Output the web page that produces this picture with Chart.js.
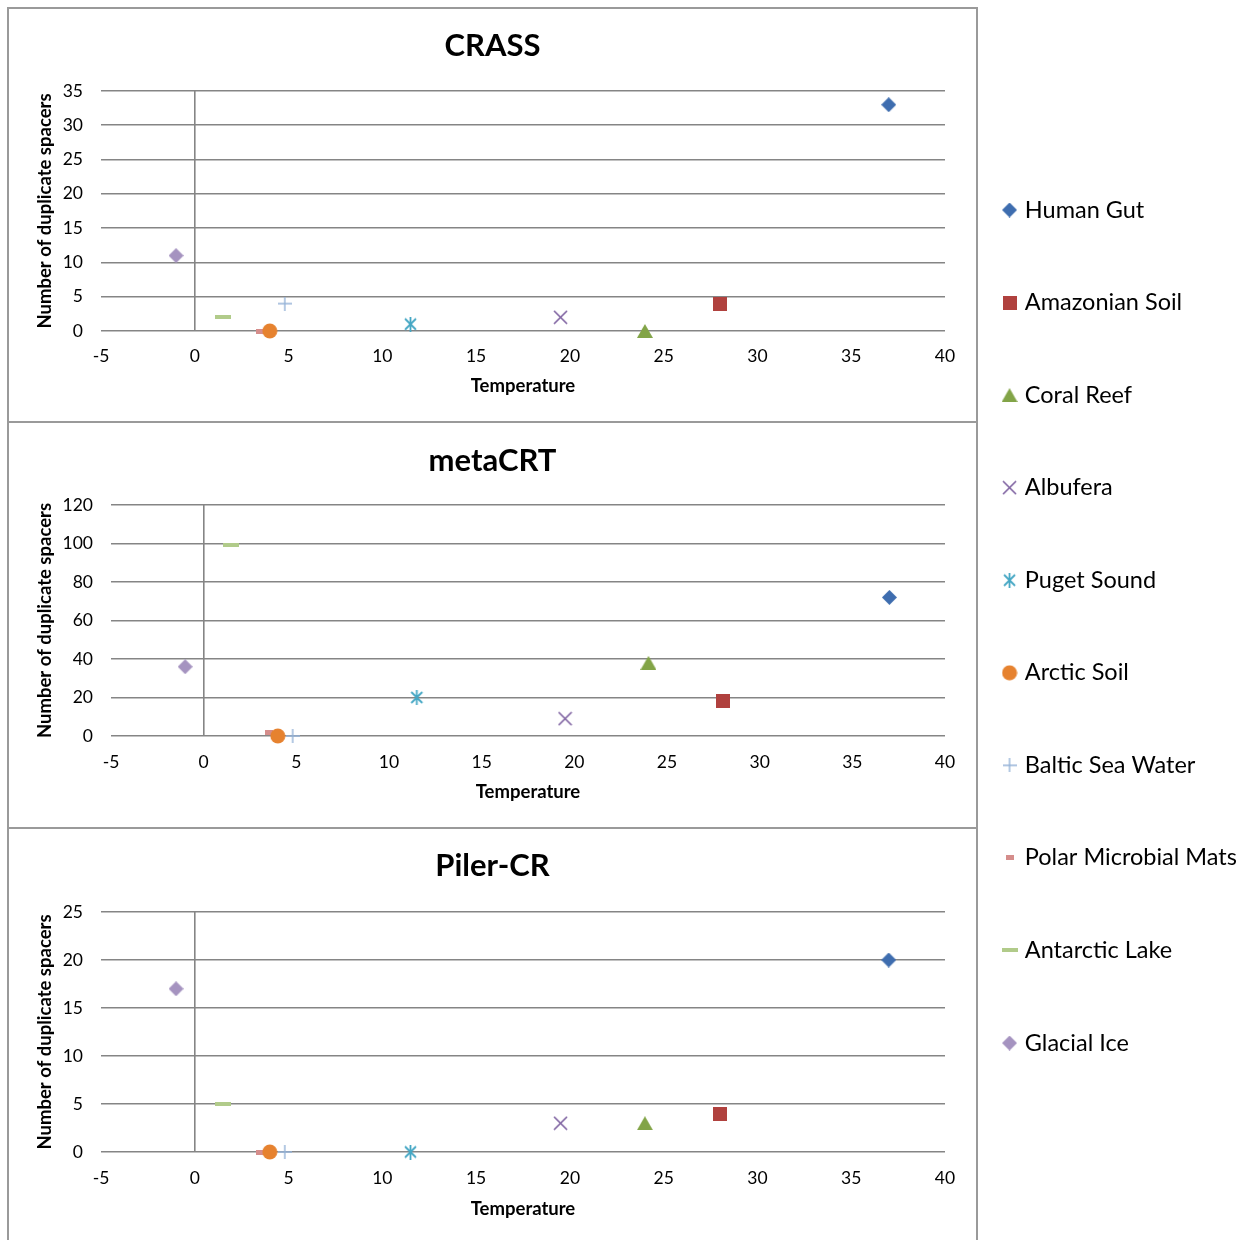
<!DOCTYPE html>
<html lang="en">
<head>
<meta charset="UTF-8">
<title>Duplicate spacers vs temperature</title>
<script src="https://cdn.jsdelivr.net/npm/chart.js"></script>
<style>
  body { margin: 0; background: #fff; width: 1255px; height: 1240px; overflow: hidden; position: relative; }
  .frame { position: absolute; left: 7px; top: 7px; width: 971px; height: 1300px; border: 2px solid #9a9a9a; box-sizing: border-box; }
  .sep { position: absolute; left: 7px; width: 971px; height: 2px; background: #9a9a9a; }
  .panel { position: absolute; left: 9px; width: 967px; }
  #legendBox { position: absolute; left: 937px; top: 0; width: 318px; height: 1240px; z-index: 5; }
</style>
</head>
<body>
<div class="frame"></div>
<div class="sep" style="top:421px"></div>
<div class="sep" style="top:827px"></div>
<div class="panel" style="top:9px;height:412px"><canvas id="crassChart"></canvas></div>
<div class="panel" style="top:423px;height:404px"><canvas id="metacrtChart"></canvas></div>
<div class="panel" style="top:829px;height:411px"><canvas id="pilerChart"></canvas></div>
<div id="legendBox"><canvas id="legendChart"></canvas></div>
<script>
// data
const series = ['Human Gut', 'Amazonian Soil', 'Coral Reef', 'Albufera', 'Puget Sound',
  'Arctic Soil', 'Baltic Sea Water', 'Polar Microbial Mats', 'Antarctic Lake', 'Glacial Ice'];
const temperature = [37, 28, 24, 19.5, 11.5, 4, 4.8, 3.5, 1.5, -1];
const crassSpacers = [33, 4, 0, 2, 1, 0, 4, 0, 2, 11];
const metacrtSpacers = [72, 18, 38, 9, 20, 0, 0, 2, 99, 36];
const pilerSpacers = [20, 4, 3, 3, 0, 0, 0, 0, 5, 17];

const colors = ['#3E6DAF', '#B0413E', '#82A447', '#7D60A0', '#45A7C4',
  '#E6822F', '#95B3D7', '#D58D8B', '#B1CB8A', '#A593C0'];
const markers = ['diamond', 'square', 'triangle', 'x', 'star', 'circle', 'plus', 'smalldash', 'dash', 'diamond'];

const FONT = 'Lato, "Open Sans", sans-serif';
const gridColor = '#858585';
const TICK = 17.5, AXT = 18.5, LEG = 23.5;

// Excel-like marker glyphs drawn on little canvases
function markerImage(kind, color) {
  const c = document.createElement('canvas');
  const s = { diamond: [15, 15], square: [14, 14], triangle: [16, 14], x: [15, 15], star: [15, 15],
    circle: [16, 16], plus: [14, 14], smalldash: [8, 5], dash: [16, 4] }[kind];
  c.width = s[0]; c.height = s[1];
  const g = c.getContext('2d');
  const w = s[0], h = s[1];
  g.fillStyle = color; g.strokeStyle = color; g.lineWidth = 1.6;
  g.beginPath();
  if (kind === 'diamond') {
    g.moveTo(w / 2, 0); g.lineTo(w, h / 2); g.lineTo(w / 2, h); g.lineTo(0, h / 2); g.closePath(); g.fill();
  } else if (kind === 'square') {
    g.fillRect(0, 0, w, h);
  } else if (kind === 'triangle') {
    g.moveTo(w / 2, 0); g.lineTo(w, h); g.lineTo(0, h); g.closePath(); g.fill();
  } else if (kind === 'x') {
    g.moveTo(1, 1); g.lineTo(w - 1, h - 1); g.moveTo(w - 1, 1); g.lineTo(1, h - 1); g.stroke();
  } else if (kind === 'star') {
    g.lineWidth = 1.8;
    g.moveTo(2, 2); g.lineTo(w - 2, h - 2); g.moveTo(w - 2, 2); g.lineTo(2, h - 2);
    g.moveTo(w / 2, 0); g.lineTo(w / 2, h); g.stroke();
  } else if (kind === 'circle') {
    g.arc(w / 2, h / 2, w / 2 - 0.5, 0, Math.PI * 2); g.fill();
  } else if (kind === 'plus') {
    g.lineWidth = 1.4;
    g.moveTo(w / 2, 0); g.lineTo(w / 2, h); g.moveTo(0, h / 2); g.lineTo(w, h / 2); g.stroke();
  } else {
    g.fillRect(0, 0, w, h);
  }
  return c;
}
const markerImgs = series.map((s, i) => markerImage(markers[i], colors[i]));

function buildDatasets(values) {
  return series.map((name, i) => ({
    label: name,
    data: [{ x: temperature[i], y: values[i] }],
    pointStyle: markerImgs[i],
    pointRadius: 7,
    backgroundColor: colors[i],
    borderColor: colors[i],
    clip: false
  }));
}

// place the plot area where the picture has it (page coordinates)
function makeChart(id, values, cfg) {
  const canvasLeft = 9, W = 967;
  const top = cfg.canvasTop, H = cfg.canvasH, a = cfg.area;
  const tLh = cfg.titleSize * 1.2;
  const titlePadTop = (cfg.titleY - top) - tLh / 2;
  const titlePadBottom = (a.top - top) - titlePadTop - tLh;
  return new Chart(document.getElementById(id), {
    type: 'scatter',
    data: { datasets: buildDatasets(values) },
    options: {
      responsive: true,
      maintainAspectRatio: false,
      animation: false,
      layout: { padding: 0 },
      plugins: {
        legend: { display: false },
        tooltip: { enabled: false },
        title: {
          display: true, text: cfg.title, color: '#000',
          font: { family: FONT, size: cfg.titleSize, weight: 'bold' },
          padding: { top: titlePadTop, bottom: titlePadBottom }
        }
      },
      scales: {
        x: {
          type: 'linear', min: -5, max: 40,
          ticks: { stepSize: 5, color: '#000', font: { family: FONT, size: TICK }, padding: (cfg.xLabelY - a.bottom) - TICK * 0.6 },
          grid: { drawTicks: false, lineWidth: 1.6, color: c => (c.tick && c.tick.value === 0 ? gridColor : 'rgba(0,0,0,0)') },
          border: { display: false },
          title: {
            display: true, text: 'Temperature', color: '#000',
            font: { family: FONT, size: AXT, weight: 'bold' },
            padding: { top: 0, bottom: (top + H - cfg.xTitleY) - AXT * 0.6 }
          },
          afterFit: s => { s.height = H - (a.bottom - top); }
        },
        y: {
          type: 'linear', min: 0, max: cfg.yMax,
          ticks: { stepSize: cfg.yStep, color: '#000', font: { family: FONT, size: TICK }, padding: a.left - cfg.yLabelRight },
          grid: { drawTicks: false, lineWidth: 1.6, color: gridColor },
          border: { display: false },
          title: {
            display: true, text: 'Number of duplicate spacers', color: '#000',
            font: { family: FONT, size: AXT, weight: 'bold' },
            padding: { top: (cfg.yTitleX - canvasLeft) - AXT * 0.6, bottom: 0 }
          },
          afterFit: s => { s.width = a.left - canvasLeft; }
        },
        // empty right-hand box so the title stays centred on the whole panel
        yRight: {
          type: 'linear', position: 'right', min: 0, max: 1,
          ticks: { display: false }, grid: { display: false }, border: { display: false },
          afterFit: s => { s.width = W - (a.right - canvasLeft); }
        }
      }
    }
  });
}

makeChart('crassChart', crassSpacers, {
  title: 'CRASS', titleSize: 31, canvasTop: 9, canvasH: 412,
  area: { left: 101, right: 945, top: 91, bottom: 331 },
  titleY: 46, xLabelY: 356, xTitleY: 386, yTitleX: 45, yLabelRight: 83,
  yMax: 35, yStep: 5
});
makeChart('metacrtChart', metacrtSpacers, {
  title: 'metaCRT', titleSize: 31, canvasTop: 423, canvasH: 404,
  area: { left: 111, right: 945, top: 505, bottom: 736 },
  titleY: 461, xLabelY: 762, xTitleY: 792, yTitleX: 45, yLabelRight: 93,
  yMax: 120, yStep: 20
});
makeChart('pilerChart', pilerSpacers, {
  title: 'Piler-CR', titleSize: 31, canvasTop: 829, canvasH: 411,
  area: { left: 101, right: 945, top: 912, bottom: 1152 },
  titleY: 866, xLabelY: 1178, xTitleY: 1209, yTitleX: 45, yLabelRight: 83,
  yMax: 25, yStep: 5
});

// shared legend on the right
const legPad = 92.56 - LEG;
new Chart(document.getElementById('legendChart'), {
  type: 'scatter',
  data: { datasets: series.map((name, i) => ({ label: name, data: [], pointStyle: markerImgs[i] })) },
  options: {
    responsive: true,
    maintainAspectRatio: false,
    animation: false,
    events: [],
    layout: { padding: { top: 210 - LEG / 2 - legPad } },
    scales: { x: { display: false }, y: { display: false } },
    plugins: {
      tooltip: { enabled: false },
      legend: {
        position: 'left', align: 'start', maxWidth: 318,
        labels: {
          usePointStyle: true, boxWidth: 7, boxHeight: 7, padding: legPad,
          color: '#000', font: { family: FONT, size: LEG },
          generateLabels: () => series.map((name, i) => ({
            text: name, pointStyle: markerImgs[i], fillStyle: colors[i],
            strokeStyle: colors[i], lineWidth: 0, hidden: false, datasetIndex: i
          }))
        }
      }
    }
  }
});
</script>
</body>
</html>
